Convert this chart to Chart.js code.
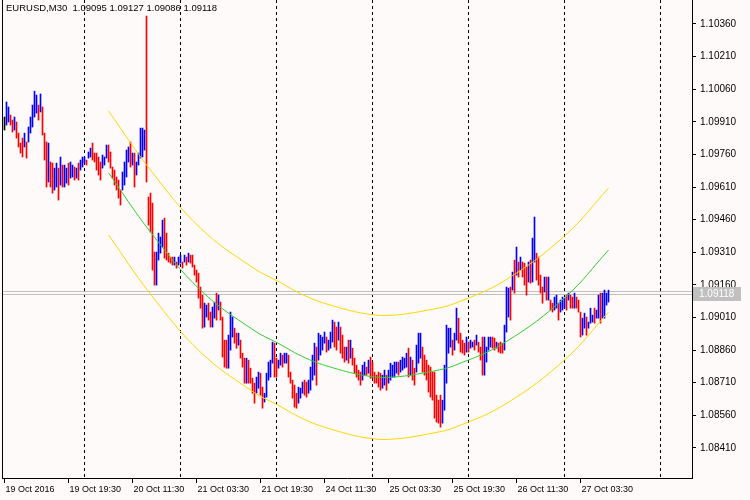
<!DOCTYPE html>
<html>
<head>
<meta charset="utf-8">
<script src="https://cdn.jsdelivr.net/npm/chart.js@4.4.0/dist/chart.umd.min.js"></script>
<style>
  html, body { margin: 0; padding: 0; background: #fffafa; }
  #wrap { width: 750px; height: 500px; }
</style>
</head>
<body>
<div id="wrap"><canvas id="chart" width="750" height="500"></canvas></div>
<script>
// EURUSD M30 bars, high / low per bar
const highs = [
  1.09932,1.10001,1.09978,1.09941,1.09918,1.09932,1.09909,1.09858,1.09812,1.09835,1.09858,1.09817,1.09886,1.09932,1.09987,1.10051,1.10033,1.09987,1.10038,1.09978,
  1.09858,1.09817,1.09812,1.09725,1.09720,1.09697,1.09720,1.09697,1.09748,1.09711,1.09711,1.09697,1.09720,1.09725,1.09711,1.09702,1.09697,1.09720,1.09734,1.09748,
  1.09748,1.09734,1.09771,1.09789,1.09812,1.09766,1.09766,1.09748,1.09725,1.09757,1.09748,1.09803,1.09803,1.09771,1.09702,1.09688,1.09656,1.09642,1.09596,1.09679,
  1.09725,1.09780,1.09794,1.09817,1.09766,1.09766,1.09725,1.09766,1.09881,1.09881,1.09872,1.10396,1.09564,
  1.09582,1.09536,1.09311,1.09311,1.09398,1.09380,1.09458,1.09467,1.09398,1.09306,1.09288,1.09288,1.09288,1.09265,1.09288,1.09297,1.09265,1.09297,1.09288,1.09306,
  1.09297,1.09297,1.09251,1.09228,1.09214,1.09150,1.09113,1.09076,1.09067,1.09076,1.09035,1.09058,1.09081,1.09122,1.09113,1.09081,1.09012,1.08906,1.08906,1.08929,
  1.09035,1.09012,1.08961,1.08938,1.08938,1.08906,1.08846,1.08823,1.08823,1.08814,1.08777,1.08731,1.08708,1.08736,1.08759,1.08754,1.08690,1.08662,1.08754,1.08805,
  1.08814,1.08897,1.08892,1.08823,1.08814,1.08846,1.08837,1.08846,1.08846,1.08837,1.08759,1.08722,1.08699,1.08662,1.08690,1.08685,1.08713,1.08722,
  1.08713,1.08722,1.08782,1.08837,1.08892,1.08874,1.08938,1.08929,1.08920,1.08943,1.08920,1.08906,1.08943,1.08998,1.08989,1.08966,1.08989,1.08966,1.08929,1.08874,
  1.08874,1.08906,1.08906,1.08869,1.08823,1.08791,1.08768,1.08759,1.08791,1.08805,1.08782,1.08814,1.08828,1.08805,1.08759,1.08745,1.08759,1.08754,1.08745,1.08768,
  1.08745,1.08768,1.08800,1.08791,1.08805,1.08805,1.08805,1.08814,1.08828,1.08823,1.08846,1.08869,1.08828,1.08814,1.08777,1.08883,1.08938,1.08938,1.08874,1.08837,
  1.08814,1.08791,1.08782,1.08759,1.08759,1.08653,1.08630,1.08653,1.08630,1.08791,1.08975,1.08961,1.08961,1.08906,1.08938,
  1.09053,1.09007,1.08938,1.08906,1.08892,1.08920,1.08897,1.08906,1.08897,1.08906,1.08929,1.08897,1.08874,1.08920,1.08920,1.08874,1.08920,1.08920,1.08920,1.08915,
  1.08897,1.08892,1.08897,1.08892,1.08975,1.09150,1.09145,1.09150,1.09219,1.09274,1.09334,1.09265,1.09288,1.09265,1.09260,1.09242,1.09265,1.09274,1.09375,1.09472,
  1.09306,1.09288,1.09205,1.09150,1.09196,1.09196,1.09196,1.09090,1.09076,1.09104,1.09113,1.09076,1.09090,1.09104,1.09099,1.09113,1.09122,1.09113,1.09104,1.09122,
  1.09104,1.09090,1.09035,1.09007,1.09030,1.09012,1.08989,1.09053,1.09021,1.09053,1.09044,1.09113,1.09122,1.09122,1.09136,1.09122,1.09136
];
const lows = [
  1.09872,1.09895,1.09909,1.09895,1.09863,1.09872,1.09835,1.09794,1.09766,1.09748,1.09794,1.09743,1.09817,1.09858,1.09886,1.09932,1.09950,1.09918,1.09955,1.09849,
  1.09734,1.09610,1.09633,1.09610,1.09582,1.09596,1.09610,1.09550,1.09619,1.09610,1.09610,1.09628,1.09619,1.09651,1.09656,1.09642,1.09651,1.09642,1.09688,1.09702,
  1.09720,1.09711,1.09743,1.09748,1.09734,1.09725,1.09688,1.09665,1.09642,1.09697,1.09711,1.09743,1.09725,1.09697,1.09651,1.09619,1.09596,1.09559,1.09527,1.09596,
  1.09619,1.09656,1.09725,1.09702,1.09711,1.09610,1.09665,1.09711,1.09743,1.09748,1.09780,1.09633,1.09435,
  1.09403,1.09228,1.09159,1.09159,1.09274,1.09306,1.09334,1.09283,1.09274,1.09265,1.09260,1.09251,1.09251,1.09237,1.09251,1.09260,1.09237,1.09265,1.09251,1.09265,
  1.09260,1.09242,1.09205,1.09173,1.09099,1.09053,1.08961,1.08966,1.09012,1.08998,1.08966,1.08966,1.09007,1.08998,1.09044,1.08998,1.08828,1.08782,1.08777,1.08777,
  1.08860,1.08920,1.08892,1.08869,1.08883,1.08823,1.08782,1.08708,1.08708,1.08708,1.08708,1.08662,1.08616,1.08662,1.08685,1.08653,1.08593,1.08621,1.08644,1.08722,
  1.08736,1.08800,1.08736,1.08736,1.08777,1.08791,1.08782,1.08800,1.08800,1.08736,1.08708,1.08639,1.08598,1.08593,1.08616,1.08639,1.08662,1.08653,
  1.08644,1.08662,1.08676,1.08722,1.08745,1.08699,1.08814,1.08837,1.08860,1.08892,1.08851,1.08860,1.08869,1.08897,1.08874,1.08860,1.08906,1.08846,1.08823,1.08805,
  1.08814,1.08800,1.08823,1.08791,1.08754,1.08736,1.08722,1.08699,1.08722,1.08745,1.08745,1.08754,1.08731,1.08731,1.08708,1.08708,1.08690,1.08676,1.08685,1.08699,
  1.08676,1.08708,1.08722,1.08736,1.08736,1.08754,1.08745,1.08759,1.08768,1.08777,1.08782,1.08736,1.08745,1.08722,1.08699,1.08759,1.08800,1.08823,1.08759,1.08745,
  1.08722,1.08667,1.08644,1.08630,1.08547,1.08529,1.08524,1.08506,1.08524,1.08584,1.08708,1.08846,1.08874,1.08837,1.08860,
  1.08906,1.08892,1.08851,1.08846,1.08837,1.08851,1.08851,1.08869,1.08874,1.08860,1.08883,1.08851,1.08814,1.08745,1.08745,1.08805,1.08860,1.08874,1.08869,1.08860,
  1.08869,1.08851,1.08846,1.08846,1.08860,1.08943,1.09012,1.08998,1.09136,1.09122,1.09205,1.09196,1.09228,1.09196,1.09159,1.09113,1.09173,1.09168,1.09173,1.09265,
  1.09182,1.09159,1.09122,1.09076,1.09127,1.09090,1.09090,1.09044,1.09035,1.09044,1.09053,1.08998,1.09035,1.09044,1.09053,1.09044,1.09090,1.09053,1.09053,1.09053,
  1.09053,1.09035,1.08920,1.08929,1.08961,1.08929,1.08961,1.08984,1.08989,1.08984,1.09007,1.09007,1.08984,1.09007,1.09007,1.09067,1.09081
];

// regression channel, read at a few bar positions
const channelX = [52, 73, 98, 124.5, 136.5, 150.5, 164.5, 181.5, 194.5, 214.5, 225.5, 250.5, 280.5, 302];
const channelMid = [1.09675,1.09403,1.09136,1.08952,1.08893,1.08824,1.08778,1.08741,1.08736,1.08764,1.08791,1.08897,1.09104,1.09320];
const channelUp = [1.09960,1.09688,1.09421,1.09237,1.09178,1.09109,1.09063,1.09026,1.09021,1.09049,1.09076,1.09182,1.09389,1.09605];
const channelDn = [1.09390,1.09118,1.08851,1.08667,1.08608,1.08539,1.08493,1.08456,1.08451,1.08479,1.08506,1.08612,1.08819,1.09035];

const priceTicks = [1.10360,1.10210,1.10060,1.09910,1.09760,1.09610,1.09460,1.09310,1.09160,1.09010,1.08860,1.08710,1.08560,1.08410];
const timeTickBars = [0, 32, 64, 96, 128, 160, 192, 224, 256, 288];
const timeTickLabels = ['19 Oct 2016','19 Oct 19:30','20 Oct 11:30','21 Oct 03:30','21 Oct 19:30','24 Oct 11:30','25 Oct 03:30','25 Oct 19:30','26 Oct 11:30','27 Oct 03:30'];
const daySeparators = [40, 88, 136, 184, 232, 280, 328];
const header = 'EURUSD,M30  1.09095 1.09127 1.09086 1.09118';
const lastBid = 1.09118;
const lastAsk = 1.09132;

const FAMILY = '"Liberation Sans", Arial, sans-serif';
const FONT = '9px ' + FAMILY;

const barData = highs.map((h, i) => ({ x: i, y: [lows[i], h] }));
const barColors = highs.map((h, i) => {
  if (i === 0) return '#000000';
  const dl = lows[i] - lows[i - 1];
  const up = dl !== 0 ? dl > 0 : h >= highs[i - 1];
  return up ? '#0000ff' : '#ff0000';
});
const line = (ys) => channelX.map((x, i) => ({ x: x, y: ys[i] }));

const overlay = {
  id: 'overlay',
  beforeDraw(chart) {
    const c = chart.ctx;
    c.save();
    c.fillStyle = '#fffafa';
    c.fillRect(0, 0, chart.width, chart.height);
    c.restore();
  },
  beforeDatasetsDraw(chart) {
    const c = chart.ctx, a = chart.chartArea, xs = chart.scales.x, ys = chart.scales.y;
    c.save();
    c.strokeStyle = '#000';
    c.lineWidth = 1;
    c.setLineDash([3, 3]);
    daySeparators.forEach(b => {
      const px = Math.floor(xs.getPixelForValue(b)) + 0.5;
      c.beginPath(); c.moveTo(px, a.top); c.lineTo(px, a.bottom); c.stroke();
    });
    c.setLineDash([]);
    c.strokeStyle = '#c0c0c0';
    [lastBid, lastAsk].forEach(p => {
      const py = Math.round(ys.getPixelForValue(p)) + 0.5;
      c.beginPath(); c.moveTo(a.left, py); c.lineTo(a.right, py); c.stroke();
    });
    c.restore();
  },
  afterDraw(chart) {
    const c = chart.ctx, a = chart.chartArea, xs = chart.scales.x, ys = chart.scales.y;
    c.save();
    c.strokeStyle = '#000';
    c.lineWidth = 1;
    c.beginPath(); c.moveTo(a.left + 0.5, a.top); c.lineTo(a.left + 0.5, a.bottom); c.stroke();
    c.font = '9.5px ' + FAMILY;
    c.fillStyle = '#000';
    c.textBaseline = 'top';
    c.fillText(header, 6, 4);
    c.font = FONT;
    timeTickBars.forEach((b, i) => {
      const px = Math.floor(xs.getPixelForValue(b)) + 0.5;
      c.beginPath(); c.moveTo(px, a.bottom); c.lineTo(px, a.bottom + 5); c.stroke();
      c.fillText(timeTickLabels[i], px + 1, a.bottom + 7);
    });
    const py = Math.round(ys.getPixelForValue(lastBid));
    c.fillStyle = '#c0c0c0';
    c.fillRect(a.right + 1, py - 7, 48, 14);
    c.fillStyle = '#ffffff';
    c.textBaseline = 'middle';
    c.font = '10px ' + FAMILY;
    c.fillText(lastBid.toFixed(5), a.right + 7, py);
    c.restore();
  }
};

new Chart(document.getElementById('chart'), {
  type: 'bar',
  data: {
    datasets: [
      { type: 'line', data: line(channelUp), borderColor: '#ffd700', borderWidth: 1, pointRadius: 0, tension: 0.4 },
      { type: 'line', data: line(channelMid), borderColor: '#32cd32', borderWidth: 1, pointRadius: 0, tension: 0.4 },
      { type: 'line', data: line(channelDn), borderColor: '#ffd700', borderWidth: 1, pointRadius: 0, tension: 0.4 },
      { data: barData, backgroundColor: barColors, barThickness: 1, borderWidth: 0, borderSkipped: false, minBarLength: 1 }
    ]
  },
  options: {
    responsive: false,
    animation: false,
    events: [],
    layout: { padding: { left: 2, top: 0, right: 0, bottom: 0 } },
    plugins: { legend: { display: false }, tooltip: { enabled: false } },
    scales: {
      x: {
        type: 'linear', min: -1.25, max: 343.75, offset: false,
        afterFit(s) { s.height = 22; s.paddingLeft = 0; s.paddingRight = 0; },
        ticks: { display: false },
        grid: { display: false },
        border: { display: true, color: '#000' }
      },
      y: {
        position: 'right', min: 1.08272, max: 1.10470,
        afterFit(s) { s.width = 58; s.paddingTop = 0; s.paddingBottom = 0; },
        afterBuildTicks(s) { s.ticks = priceTicks.map(v => ({ value: v })); },
        ticks: { color: '#000', font: { family: FAMILY, size: 10 }, padding: 4, callback: v => v.toFixed(5) },
        grid: { drawOnChartArea: false, tickLength: 4, color: '#000' },
        border: { display: true, color: '#000' }
      }
    }
  },
  plugins: [overlay]
});
</script>
</body>
</html>
